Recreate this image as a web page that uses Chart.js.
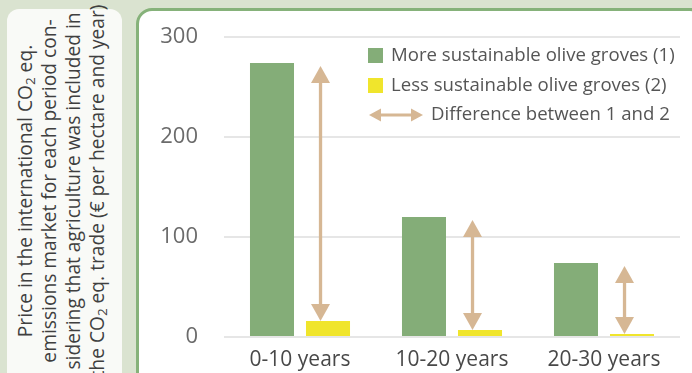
<!DOCTYPE html>
<html>
<head>
<meta charset="utf-8">
<script src="https://cdn.jsdelivr.net/npm/chart.js@4.4.1/dist/chart.umd.min.js"></script>
<style>
  html, body { margin: 0; padding: 0; }
  body {
    width: 692px; height: 373px; overflow: hidden; position: relative;
    background: #dae3d0; font-family: 'Open Sans', sans-serif;
  }
  #titleBox {
    position: absolute; left: 7px; top: 9px; width: 115px; height: 380px;
    border-radius: 12px; background: #f9faf7;
  }
  #titleText {
    position: absolute; left: 54px; top: 182px; width: 460px;
    transform: translate(-50%, -50%) rotate(-90deg);
    text-align: center; font-size: 19.2px; line-height: 24px; color: #3f3f3f; white-space: nowrap;
  }
  #titleText .sub { font-size: 70%; vertical-align: -0.2em; line-height: 0; }
  #panel {
    position: absolute; left: 136px; top: 8px; width: 570px; height: 380px; box-sizing: border-box;
    border: 3px solid #86b27a; border-radius: 16px; background: #fff;
  }
  #chart { position: absolute; left: 0; top: 0; }
</style>
</head>
<body>
<div id="titleBox">
  <div id="titleText">
    Price in the international CO<span class="sub">2</span> eq.<br>
    emissions market for each period con-<br>
    sidering that agriculture was included in<br>
    the CO<span class="sub">2</span> eq. trade (€ per hectare and year)
  </div>
</div>
<div id="panel"></div>
<canvas id="chart" width="692" height="373"></canvas>

<script>
const categories = ['0-10 years', '10-20 years', '20-30 years'];
const moreSustainable = [274, 120, 74];
const lessSustainable = [16, 7, 3];
const yTicks = [0, 100, 200, 300];
const seriesLabels = ['More sustainable olive groves (1)', 'Less sustainable olive groves (2)'];
const differenceLabel = 'Difference between 1 and 2';

const GREEN = '#84ad78';
const YELLOW = '#f0e52c';
const TAN = '#d6b794';
const FONT = "'Open Sans', sans-serif";

function arrowHead(ctx, x, y, dx, dy, len, half) {
  // tip at (x, y), pointing along (dx, dy)
  ctx.beginPath();
  ctx.moveTo(x, y);
  ctx.lineTo(x - dx * len - dy * half, y - dy * len - dx * half);
  ctx.lineTo(x - dx * len + dy * half, y - dy * len + dx * half);
  ctx.closePath();
  ctx.fill();
}

// vertical double arrows from the green bar top down to the yellow bar top
const differenceArrows = {
  id: 'differenceArrows',
  afterDatasetsDraw(chart) {
    const ctx = chart.ctx;
    const y = chart.scales.y;
    const less = chart.getDatasetMeta(1).data;
    ctx.save();
    ctx.fillStyle = TAN;
    ctx.strokeStyle = TAN;
    ctx.lineWidth = 3.3;
    moreSustainable.forEach((v, i) => {
      const bar = less[i];
      const x = bar.x - bar.width * 0.17;
      const top = y.getPixelForValue(v) + 3;
      const bottom = y.getPixelForValue(lessSustainable[i]);
      ctx.beginPath();
      ctx.moveTo(x, top + 12);
      ctx.lineTo(x, bottom - 12);
      ctx.stroke();
      arrowHead(ctx, x, top, 0, -1, 17, 9.5);
      arrowHead(ctx, x, bottom, 0, 1, 17, 9.5);
    });
    ctx.restore();
  }
};

const sideLegend = {
  id: 'sideLegend',
  afterDraw(chart) {
    const ctx = chart.ctx;
    const left = 368;
    const rows = [56, 86, 115];
    ctx.save();
    ctx.font = '18.6px ' + FONT;
    ctx.textBaseline = 'middle';
    chart.data.datasets.forEach((ds, i) => {
      ctx.fillStyle = ds.backgroundColor;
      ctx.fillRect(left, rows[i] - 8, 15, 15);
      ctx.fillStyle = '#555555';
      ctx.fillText(ds.label, left + 23, rows[i]);
    });
    const ry = rows[2];
    ctx.fillStyle = TAN;
    ctx.strokeStyle = TAN;
    ctx.lineWidth = 3;
    ctx.beginPath();
    ctx.moveTo(left + 10, ry);
    ctx.lineTo(left + 45, ry);
    ctx.stroke();
    arrowHead(ctx, left + 1, ry, -1, 0, 12, 6.5);
    arrowHead(ctx, left + 55, ry, 1, 0, 12, 6.5);
    ctx.fillStyle = '#555555';
    ctx.fillText(differenceLabel, left + 63, ry);
    ctx.restore();
  }
};

new Chart(document.getElementById('chart'), {
  type: 'bar',
  data: {
    labels: categories,
    datasets: [
      { label: seriesLabels[0], data: moreSustainable, backgroundColor: GREEN },
      { label: seriesLabels[1], data: lessSustainable, backgroundColor: YELLOW }
    ]
  },
  options: {
    responsive: false,
    animation: false,
    layout: { padding: { left: 140, right: 12, top: 37, bottom: 0 } },
    datasets: { bar: { categoryPercentage: 0.737, barPercentage: 0.786 } },
    plugins: { legend: { display: false }, tooltip: { enabled: false } },
    scales: {
      x: {
        grid: { display: false },
        border: { display: false },
        ticks: { color: '#484848', padding: 2, font: { family: FONT, size: 21 } },
        afterFit(scale) { scale.height = 36; }
      },
      y: {
        min: 0,
        max: 300,
        afterBuildTicks(scale) { scale.ticks = yTicks.map((v) => ({ value: v })); },
        // transparent ticks keep the labels away from the plot without extra vertical padding
        grid: { color: '#e6e6e6', lineWidth: 2, drawTicks: true, tickLength: 26, tickColor: 'rgba(0,0,0,0)' },
        border: { display: false },
        ticks: { color: '#6b6b6b', padding: 0, font: { family: FONT, size: 22 } },
        afterFit(scale) { scale.width = 84; }
      }
    }
  },
  plugins: [differenceArrows, sideLegend]
});
</script>
</body>
</html>
